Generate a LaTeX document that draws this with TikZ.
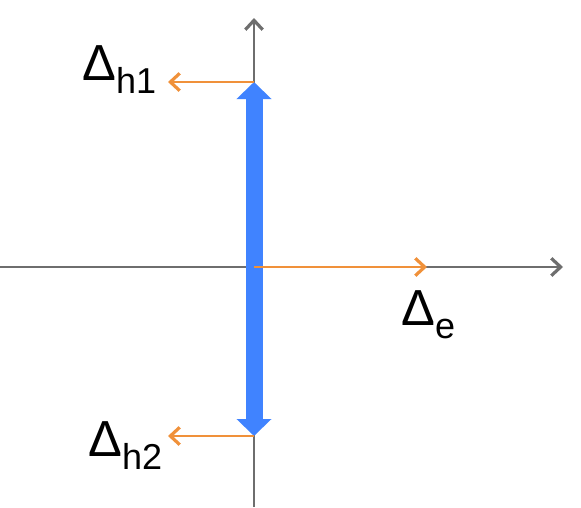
\documentclass[tikz,border=0pt]{standalone}
\usepackage{fontspec}
\setmainfont{Liberation Sans}
\usetikzlibrary{arrows.meta}
\definecolor{axisgray}{HTML}{6E6E6E}
\definecolor{shiftorange}{HTML}{F0913A}
\definecolor{bandblue}{HTML}{4083FF}
\newcommand{\dlabel}[1]{{\fontsize{38}{38}\selectfont Δ}\raisebox{-9.75pt}{\fontsize{27}{27}\selectfont #1}}
\begin{document}
\begin{tikzpicture}[x=0.75pt, y=-0.75pt,
    axis/.style={axisgray, line width=1.8pt, -{Straight Barb[length=7pt, width=13pt, line width=2.4pt]}},
    shiftarrow/.style={shiftorange, line width=1.8pt, -{Straight Barb[length=7pt, width=13pt, line width=2.4pt]}},
    band/.style={bandblue, line width=12.75pt, {Triangle[length=12.75pt, width=25.5pt]}-{Triangle[length=12.75pt, width=25.5pt]}},
    lbl/.style={inner sep=0pt, anchor=base west}]
  \useasboundingbox (0,0) rectangle (581,507);
  % axes
  \coordinate (O) at (254,267);
  \coordinate (xl) at (0,267);
  \coordinate (xr) at (563,267);
  \coordinate (yb) at (254,507);
  \coordinate (yt) at (254,18);
  \draw[axis] (xl) -- (xr);
  \draw[axis] (yb) -- (yt);
  % band between the two shifts
  \coordinate (top) at (254,82);
  \coordinate (bot) at (254,436);
  \draw[band] (bot) -- (top);
  % shift arrows
  \coordinate (h1) at (168,82);
  \coordinate (h2) at (168,436);
  \coordinate (e) at (427,267);
  \draw[shiftarrow] (top) -- (h1);
  \draw[shiftarrow] (bot) -- (h2);
  \draw[shiftarrow] (O) -- (e);
  % labels
  \node[lbl] (lh1) at (82,80) {\dlabel{h1}};
  \node[lbl] (le) at (401,325) {\dlabel{e}};
  \node[lbl] (lh2) at (88,456) {\dlabel{h2}};
\end{tikzpicture}
\end{document}
